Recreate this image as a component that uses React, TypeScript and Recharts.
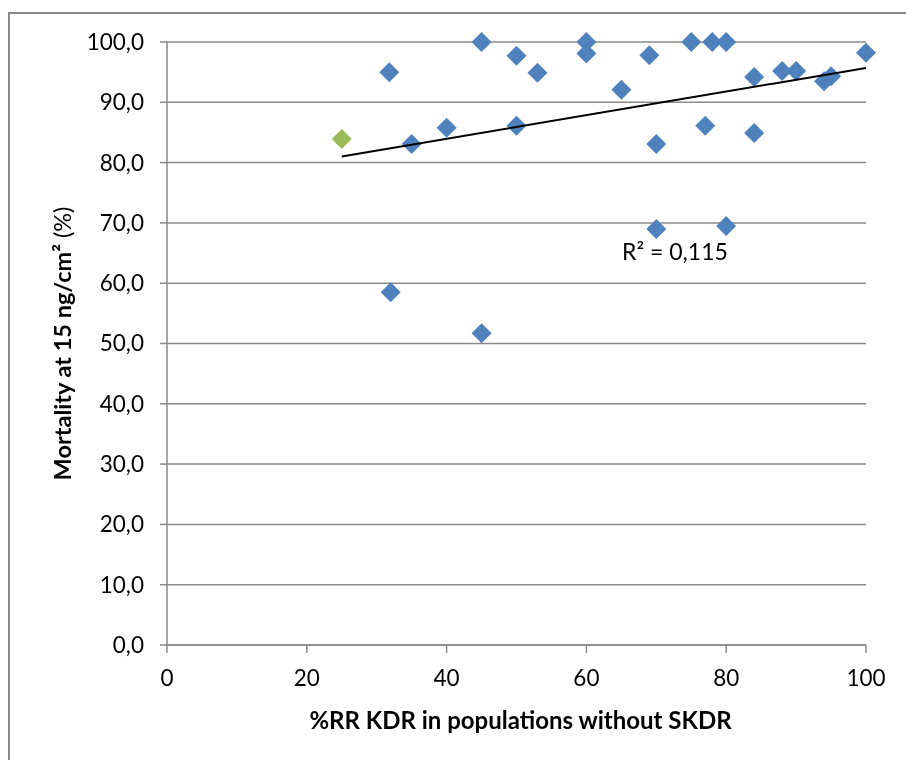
import {
  CartesianGrid,
  ReferenceDot,
  Scatter,
  ScatterChart,
  XAxis,
  YAxis,
} from "recharts";

// %RR KDR (x) vs mortality at 15 ng/cm² (y)
const kdrBlue = [31.8, 32, 35, 40, 45, 45, 50, 50, 53, 60, 60, 65, 69, 70, 70, 75, 77, 78, 80, 80, 84, 84, 88, 90, 94, 95, 100];
const mortBlue = [95.0, 58.5, 83.1, 85.8, 100, 51.7, 97.7, 86.1, 94.9, 100, 98.1, 92.1, 97.8, 83.1, 69.0, 100, 86.1, 100, 100, 69.5, 94.2, 84.9, 95.2, 95.2, 93.5, 94.3, 98.2];

const kdrGreen = [25];
const mortGreen = [83.9];

// linear trendline endpoints as drawn
const trendX = [25, 100];
const trendY = [81.0, 95.7];

const xTicks = [0, 20, 40, 60, 80, 100];
const yTicks = [0, 10, 20, 30, 40, 50, 60, 70, 80, 90, 100];

const r2Text = "R² = 0,115";
const r2Pos = { x: 65.1, y: 65.3 };

const blueData = kdrBlue.map((x, i) => ({ x, y: mortBlue[i] }));
const greenData = kdrGreen.map((x, i) => ({ x, y: mortGreen[i] }));
const trendData = trendX.map((x, i) => ({ x, y: trendY[i] }));

const FONT = "Lato, 'Open Sans', sans-serif";
const GRAY = "#8a8a8a";

function Diamond(color: string) {
  return (props: any) => {
    const { cx, cy } = props;
    const r = 10;
    return (
      <polygon
        points={`${cx},${cy - r} ${cx + r},${cy} ${cx},${cy + r} ${cx - r},${cy}`}
        fill={color}
      />
    );
  };
}

function YTitle({ viewBox }: any) {
  const x = viewBox.x - 5;
  const y = viewBox.y + viewBox.height / 2;
  return (
    <text
      x={x}
      y={y}
      transform={`rotate(-90 ${x} ${y})`}
      textAnchor="middle"
      dominantBaseline="central"
      fontFamily={FONT}
      fontSize={23.5}
      fill="#000"
    >
      <tspan fontWeight="bold">Mortality at 15 ng/cm²</tspan>
      <tspan> (%)</tspan>
    </text>
  );
}

function XTitle({ viewBox }: any) {
  return (
    <text
      x={viewBox.x + viewBox.width / 2 + 4}
      y={viewBox.y + 74}
      textAnchor="middle"
      dominantBaseline="central"
      fontFamily={FONT}
      fontSize={24}
      fontWeight="bold"
      fill="#000"
    >
      %RR KDR in populations without SKDR
    </text>
  );
}

export default function App() {
  return (
    <div style={{ position: "relative", width: 890, height: 744 }}>
      <div
        style={{
          position: "fixed",
          left: 8,
          top: 12,
          width: 920,
          height: 770,
          borderTop: `2px solid ${GRAY}`,
          borderLeft: `2px solid ${GRAY}`,
        }}
      />
      <div style={{ position: "absolute", left: 0, top: 0 }}>
        <ScatterChart
          width={890}
          height={744}
          margin={{ top: 34, right: 32, bottom: 27, left: 59 }}
        >
          <CartesianGrid vertical={false} stroke={GRAY} strokeWidth={1.5} />
          <XAxis
            type="number"
            dataKey="x"
            domain={[0, 100]}
            ticks={xTicks}
            height={80}
            axisLine={{ stroke: GRAY, strokeWidth: 1.5 }}
            tickLine={{ stroke: GRAY, strokeWidth: 1.5 }}
            tickSize={8}
            tickMargin={17}
            tick={{ fill: "#000", fontSize: 22.5, fontFamily: FONT }}
            label={<XTitle />}
          />
          <YAxis
            type="number"
            dataKey="y"
            domain={[0, 100]}
            ticks={yTicks}
            width={100}
            axisLine={{ stroke: GRAY, strokeWidth: 1.5 }}
            tickLine={{ stroke: GRAY, strokeWidth: 1.5 }}
            tickSize={7}
            tickMargin={16}
            tick={{ fill: "#000", fontSize: 22.5, fontFamily: FONT }}
            tickFormatter={(v: number) => v.toFixed(1).replace(".", ",")}
            label={<YTitle />}
          />
          <Scatter data={greenData} fill="#9bbb59" shape={Diamond("#9bbb59")} isAnimationActive={false} />
          <Scatter data={blueData} fill="#4f81bd" shape={Diamond("#4f81bd")} isAnimationActive={false} />
          <Scatter
            data={trendData}
            line={{ stroke: "#000", strokeWidth: 2 }}
            shape={() => <g />}
            isAnimationActive={false}
          />
          <ReferenceDot
            x={r2Pos.x}
            y={r2Pos.y}
            r={0}
            shape={(p: any) => (
              <text
                x={p.cx}
                y={p.cy}
                dominantBaseline="central"
                fontFamily={FONT}
                fontSize={23}
                fill="#000"
              >
                {r2Text}
              </text>
            )}
          />
        </ScatterChart>
      </div>
    </div>
  );
}
